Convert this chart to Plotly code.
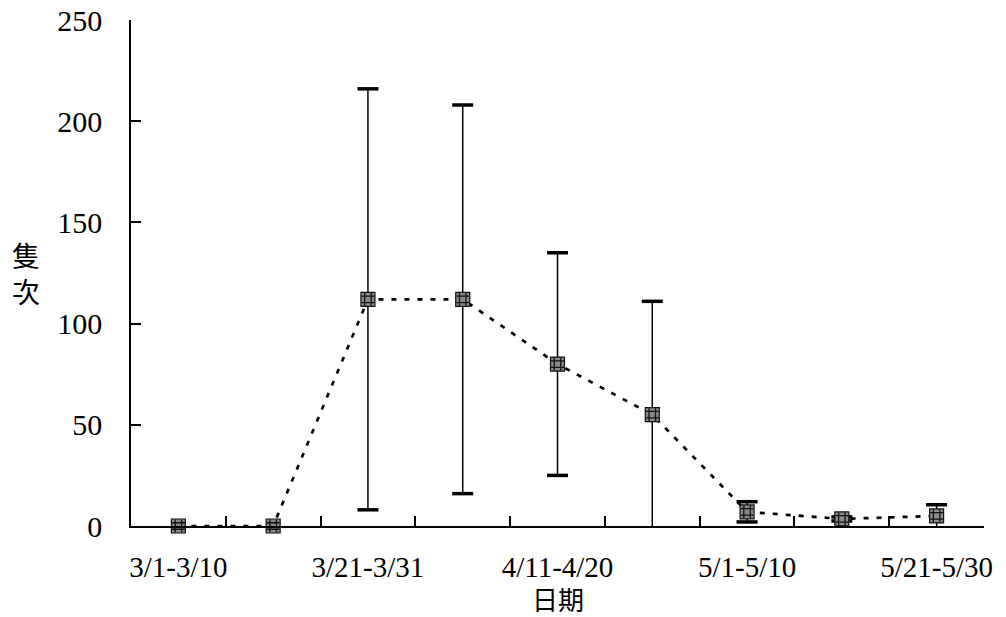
import plotly.graph_objects as go

categories = ["3/1-3/10", "3/11-3/20", "3/21-3/31", "4/1-4/10", "4/11-4/20",
              "4/21-4/30", "5/1-5/10", "5/11-5/20", "5/21-5/30"]
mean_values = [0, 0, 112, 112, 80, 55, 7, 3.5, 5]
error_values = [0, 0, 104, 96, 55, 56, 5, 1, 5.5]
shown_labels = ["3/1-3/10", "3/21-3/31", "4/11-4/20", "5/1-5/10", "5/21-5/30"]
y_ticks = [0, 50, 100, 150, 200, 250]

ticktext = [c if c in shown_labels else "" for c in categories]
upper = [m + e for m, e in zip(mean_values, error_values)]
lower = [m - e for m, e in zip(mean_values, error_values)]
has_err = [e > 0 for e in error_values]

fig = go.Figure()

# error bars (thin line)
fig.add_trace(go.Scatter(
    x=categories, y=mean_values, mode="none",
    error_y=dict(type="data", array=error_values, visible=True,
                 color="black", thickness=1.5, width=0),
    showlegend=False, hoverinfo="skip"))

# thick caps
cap_x = [c for c, h in zip(categories, has_err) if h] * 2
cap_y = [u for u, h in zip(upper, has_err) if h] + [l for l, h in zip(lower, has_err) if h]
fig.add_trace(go.Scatter(
    x=cap_x, y=cap_y, mode="markers",
    marker=dict(symbol="line-ew-open", size=15, color="black",
                line=dict(color="black", width=3.5)),
    cliponaxis=False, showlegend=False, hoverinfo="skip"))

# dotted connecting line
fig.add_trace(go.Scatter(
    x=categories, y=mean_values, mode="lines",
    line=dict(color="black", width=2.7, dash="5px,8px"),
    showlegend=False, hoverinfo="skip"))

# markers (checkered look)
fig.add_trace(go.Scatter(
    x=categories, y=mean_values, mode="markers",
    marker=dict(symbol="square", size=14, color="#8a8a8a",
                line=dict(color="#111", width=1.2)),
    cliponaxis=False, showlegend=False))
fig.add_trace(go.Scatter(
    x=categories, y=mean_values, mode="markers",
    marker=dict(symbol="hash-open", size=13, color="#111",
                line=dict(color="#111", width=1.3)),
    cliponaxis=False, showlegend=False, hoverinfo="skip"))

font_serif = "Liberation Serif, Times New Roman, serif"
cjk = "Noto Sans CJK TC, Noto Sans CJK SC, sans-serif"

fig.update_layout(
    width=1006, height=617,
    margin=dict(l=131, r=22, t=20, b=91, autoexpand=False),
    paper_bgcolor="white", plot_bgcolor="white",
    font=dict(family=font_serif, size=30, color="black"),
    xaxis=dict(
        type="category", categoryorder="array", categoryarray=categories,
        range=[-0.5, 8.5], automargin=False,
        tickmode="array", tickvals=categories, ticktext=ticktext, tickangle=0,
        tickson="boundaries", ticks="inside", ticklen=10, tickwidth=1.5, tickcolor="black",
        showline=True, linecolor="black", linewidth=1.5,
        showgrid=False, zeroline=False,
        tickfont=dict(family=font_serif, size=29, color="black"),
        ticklabelstandoff=14,
    ),
    yaxis=dict(
        range=[0, 250], tickmode="array", tickvals=y_ticks, automargin=False,
        ticks="inside", ticklen=10, tickwidth=1.5, tickcolor="black",
        showline=True, linecolor="black", linewidth=1.5,
        showgrid=False, zeroline=False,
        tickfont=dict(family=font_serif, size=30, color="black"),
        ticklabelstandoff=21,
    ),
    annotations=[
        dict(text="隻<br>次", xref="paper", yref="paper", x=0, y=0.5,
             xshift=-105, xanchor="center", yanchor="middle", showarrow=False,
             font=dict(family=cjk, size=28, color="black")),
        dict(text="日期", xref="paper", yref="paper", x=0.5, y=0,
             yshift=-72, xanchor="center", yanchor="middle", showarrow=False,
             font=dict(family=cjk, size=26, color="black")),
    ],
)

fig.write_html("out.html", config={"displayModeBar": False},
               post_script="document.body.style.margin='0';")
